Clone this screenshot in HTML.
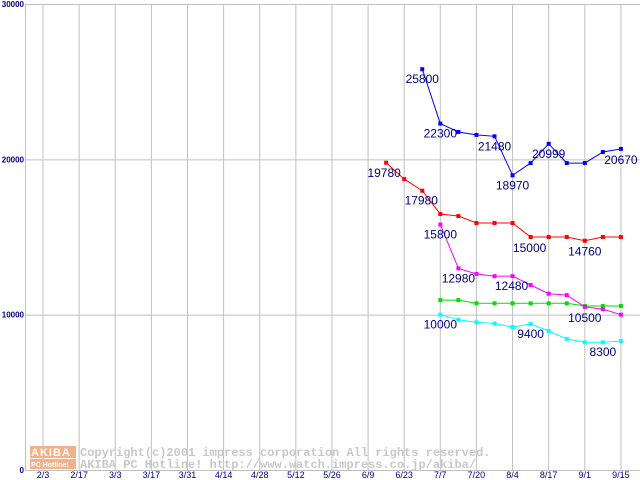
<!DOCTYPE html>
<html><head><meta charset="utf-8"><style>
body{margin:0;background:#fff;width:640px;height:480px;overflow:hidden;font-family:"Liberation Sans",sans-serif}
svg{display:block}
</style></head><body>
<svg id="chart" width="640" height="480" xmlns="http://www.w3.org/2000/svg"></svg>
<script>
const dateLabels=["2/3","2/17","3/3","3/17","3/31","4/14","4/28","5/12","5/26","6/9","6/23","7/7","7/20","8/4","8/17","9/1","9/15"];
const yTicks=[0,10000,20000,30000];
const blueStart=21, blueVals=[25800,22300,21760,21570,21480,18970,19760,20999,19760,19760,20470,20670];
const redStart=19, redVals=[19780,18730,17980,16480,16350,15900,15900,15900,15000,15000,15000,14760,15000,15000];
const magStart=22, magVals=[15800,12980,12620,12480,12480,11910,11350,11260,10500,10360,10000];
const greenStart=22, greenVals=[10940,10940,10730,10730,10730,10730,10730,10730,10560,10560,10560];
const cyanStart=22, cyanVals=[10000,9670,9510,9430,9200,9400,8950,8440,8220,8220,8300];
const annotations=[
 {t:"25800",w:21,v:25800,dx:0,dy:4},{t:"22300",w:22,v:22300,dx:0,dy:4},{t:"21480",w:25,v:21480,dx:0,dy:4},
 {t:"18970",w:26,v:18970,dx:0,dy:4},{t:"20999",w:28,v:20999,dx:0,dy:4},{t:"20670",w:32,v:20670,dx:0,dy:5},
 {t:"19780",w:19,v:19780,dx:-2,dy:4},{t:"17980",w:21,v:17980,dx:-1,dy:4},{t:"15800",w:22,v:15800,dx:0,dy:4},
 {t:"15000",w:27,v:15000,dx:-1,dy:5},{t:"14760",w:30,v:14760,dx:0,dy:5},{t:"12980",w:23,v:12980,dx:0,dy:4},
 {t:"12480",w:26,v:12480,dx:-1,dy:4},{t:"10500",w:30,v:10500,dx:0,dy:5},{t:"10000",w:22,v:10000,dx:0,dy:4},
 {t:"9400",w:27,v:9400,dx:0,dy:4},{t:"8300",w:31,v:8300,dx:0,dy:5}
];
const NS="http://www.w3.org/2000/svg", svg=document.getElementById('chart');
const X=w=>43+18.06*w, Y=v=>470-v*466/30000;
function mk(tag,attrs,parent){const e=document.createElementNS(NS,tag);for(const k in attrs)e.setAttribute(k,attrs[k]);(parent||svg).appendChild(e);return e;}
for(let i=0;i<dateLabels.length;i++){
 const l=mk('line',{x1:X(i*2),x2:X(i*2),y1:4,y2:470,stroke:'#c0c0c0','stroke-width':1});
 
 
 const t=mk('text',{x:X(i*2),y:478,'text-anchor':'middle','font-size':9,fill:'#000080'});
 t.textContent=dateLabels[i];
 
 
}
for(const v of yTicks){
 const l=mk('line',{x1:25,x2:640,y1:Y(v)+0.5,y2:Y(v)+0.5,stroke:'#c0c0c0','stroke-width':1});
 
 
 const t=mk('text',{x:24,y:Y(v)+3,'text-anchor':'end','font-size':8,'font-weight':'bold',fill:'#000080'});
 t.textContent=String(v);
 
 
}
const ax=mk('line',{x1:25.5,x2:25.5,y1:4,y2:470,stroke:'#c0c0c0'});


const wm=mk('g',{});


mk('rect',{x:30,y:446,width:46,height:12,fill:'#f4b088'},wm);
mk('rect',{x:30,y:459,width:46,height:10,fill:'#f4b088'},wm);
const w1=mk('text',{x:31,y:456,'font-size':11,'font-weight':'bold',fill:'#fff','letter-spacing':1},wm);w1.textContent="AKIBA";
const w2=mk('text',{x:31,y:467,'font-size':7,'font-weight':'bold',fill:'#fff'},wm);w2.textContent="PC Hotline!";
const w3=mk('text',{x:80,y:456,'font-size':12,fill:'#c8c8c8','font-weight':'bold','font-family':'Liberation Mono, monospace'},wm);w3.textContent="Copyright(c)2001 impress corporation All rights reserved.";
const w4=mk('text',{x:80,y:468,'font-size':12,fill:'#c8c8c8','font-weight':'bold','font-family':'Liberation Mono, monospace'},wm);w4.textContent="AKIBA PC Hotline!  http://www.watch.impress.co.jp/akiba/";
function series(name,start,vals,color){
 const g=mk('g',{});
 
 
 const pts=vals.map((v,i)=>X(start+i).toFixed(1)+','+Y(v).toFixed(1)).join(' ');
 mk('polyline',{points:pts,fill:'none',stroke:color,'stroke-width':1},g);
 vals.forEach((v,i)=>{
  const r=mk('rect',{x:X(start+i)-2,y:Y(v)-2,width:4,height:4,fill:color},g);
  
  
 });
}
series('series-blue',blueStart,blueVals,'#0000ff');
series('series-red',redStart,redVals,'#ff0000');
series('series-green',greenStart,greenVals,'#00e000');
series('series-cyan',cyanStart,cyanVals,'#00ffff');
series('series-magenta',magStart,magVals,'#ff00ff');
for(const a of annotations){
 const t=mk('text',{x:X(a.w)+a.dx,y:Y(a.v)+a.dy+10,'text-anchor':'middle','font-size':12,fill:'#000080'});
 t.textContent=a.t;
 
 
}
</script>
</body></html>
